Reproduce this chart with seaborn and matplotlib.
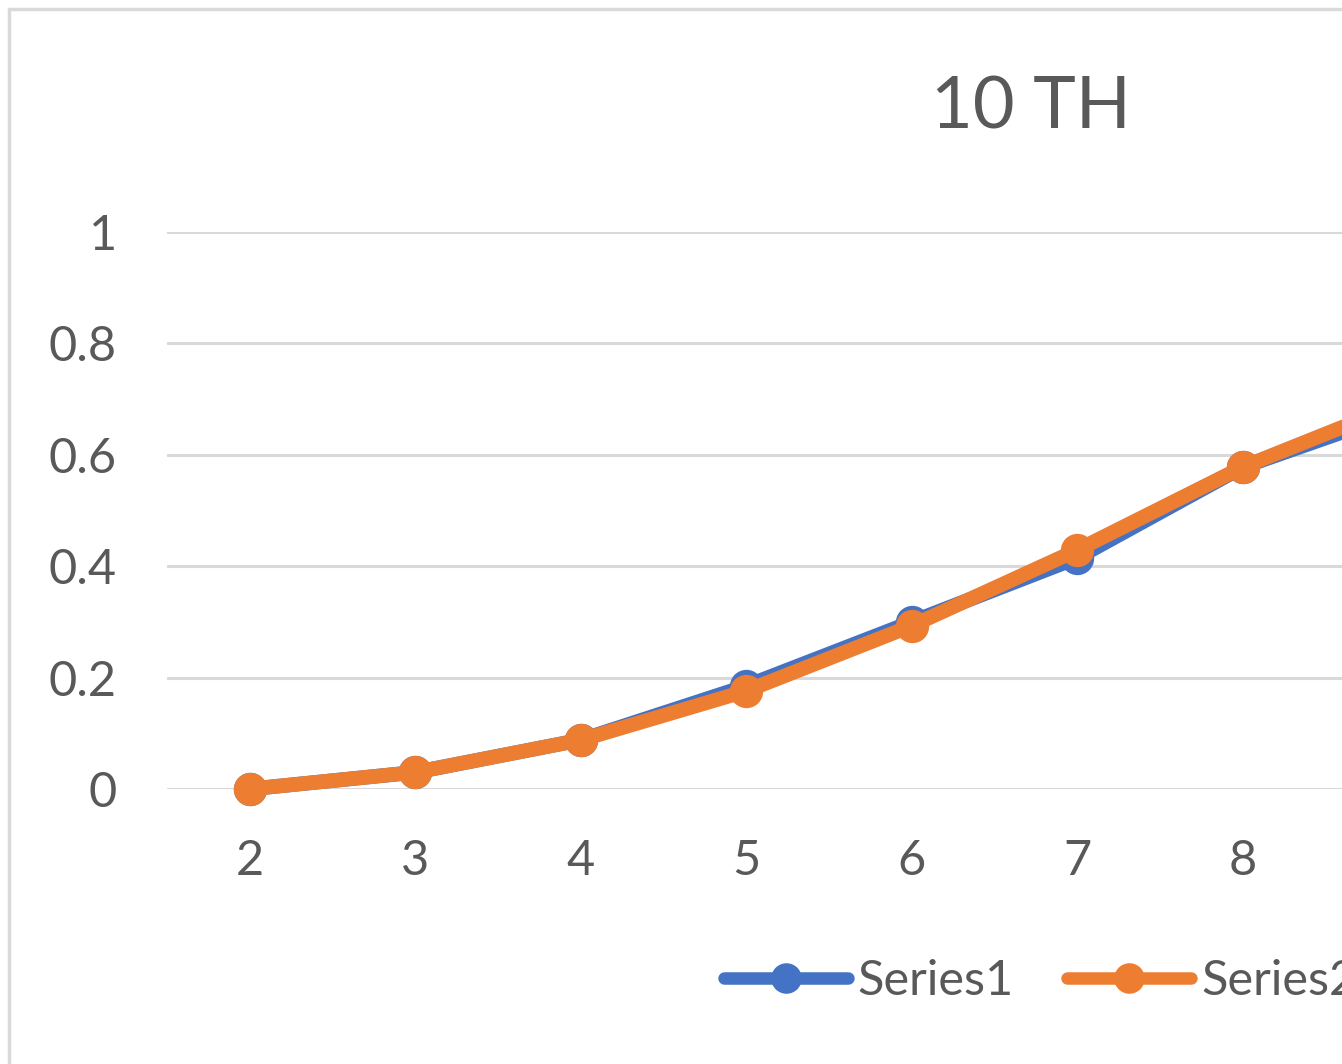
import matplotlib
matplotlib.use("Agg")
import matplotlib.pyplot as plt
from matplotlib.patches import Rectangle
from matplotlib.lines import Line2D
import pandas as pd
import seaborn as sns

# Data
categories = [2, 3, 4, 5, 6, 7, 8, 9]
series1 = [0.0, 0.030, 0.088, 0.185, 0.300, 0.415, 0.578, 0.682]
series2 = [0.0, 0.030, 0.088, 0.176, 0.293, 0.429, 0.578, 0.697]
series_names = ["Series1", "Series2"]
x_tick_labels = ["2", "3", "4", "5", "6", "7", "8"]
y_ticks = [0, 0.2, 0.4, 0.6, 0.8, 1]
y_tick_labels = ["0", "0.2", "0.4", "0.6", "0.8", "1"]
title = "10 TH"

colors = {"Series1": "#4472C4", "Series2": "#ED7D31"}
text_color = "#595959"
grid_color = "#D9D9D9"

df = pd.DataFrame({
    "x": categories * 2,
    "y": series1 + series2,
    "series": [series_names[0]] * len(categories) + [series_names[1]] * len(categories),
})

sns.set_theme(style="white")
plt.rcParams["font.family"] = ["Lato", "DejaVu Sans"]

W, H = 1342, 1064
fig = plt.figure(figsize=(W / 100, H / 100), dpi=100)
fig.patch.set_facecolor("white")

# Plot area: category spacing 165.5 px, first category at x=249 px, y range 0..1 spans 232..789 px
left_px, bottom_px, top_px = 167, 789, 232
step = 165.5
x_lo, x_hi = 1.5, 12.5
ax = fig.add_axes([left_px / W, (H - bottom_px) / H,
                   step * (x_hi - x_lo) / W, (bottom_px - top_px) / H])

sns.lineplot(data=df, x="x", y="y", hue="series", palette=colors, ax=ax,
             marker="o", markersize=24, markeredgewidth=0, linewidth=10.5,
             solid_capstyle="round", solid_joinstyle="round",
             legend=False, clip_on=False, zorder=3)

ax.set_xlim(x_lo, x_hi)
ax.set_ylim(0, 1)
ax.set_xticks(categories[:len(x_tick_labels)])
ax.set_xticklabels(x_tick_labels)
ax.set_yticks(y_ticks)
ax.set_yticklabels(y_tick_labels)
ax.tick_params(axis="both", length=0, labelsize=35, labelcolor=text_color)
ax.tick_params(axis="y", pad=36)
ax.tick_params(axis="x", pad=36)
ax.set_xlabel("")
ax.set_ylabel("")
for s in ax.spines.values():
    s.set_visible(False)
ax.grid(axis="y", color=grid_color, linewidth=2.2)
ax.grid(axis="x", visible=False)
ax.set_axisbelow(True)

# Chart title
fig.text(1031 / W, 1 - 108 / H, title, ha="center", va="center",
         fontsize=52, color=text_color)

# Legend
handles = [Line2D([0], [0], color=colors[n], linewidth=9, marker="o",
                  markersize=22, markeredgewidth=0, solid_capstyle="round")
           for n in series_names]
leg = fig.legend(handles, series_names, loc="center left",
                 bbox_to_anchor=(724 / W, 1 - 981 / H), ncol=2, frameon=False,
                 fontsize=35, handlelength=2.55, handletextpad=0.2,
                 columnspacing=1.1, borderpad=0, borderaxespad=0,
                 labelcolor=text_color)

# Chart border
fig.patches.append(Rectangle((9 / W, -0.1), 2.0, 1 - 9 / H + 0.1,
                             transform=fig.transFigure, fill=False,
                             edgecolor="#D9D9D9", linewidth=2.5))

fig.savefig("out.png", dpi=100, facecolor="white")
